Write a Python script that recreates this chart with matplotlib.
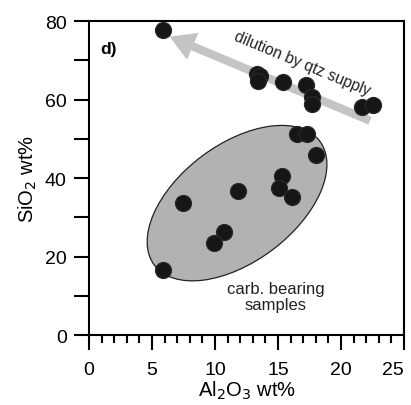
import matplotlib

matplotlib.use("Agg")
import matplotlib.pyplot as plt
from matplotlib.patches import Ellipse
from matplotlib.ticker import MultipleLocator

plt.rcParams["font.family"] = ["Liberation Sans", "DejaVu Sans"]

# Al2O3 / SiO2 (wt%)
al2o3 = [5.9, 13.3, 13.6, 13.4, 15.4, 17.2, 17.7, 17.7, 21.7, 22.5,
         16.5, 17.3, 18.0, 15.3, 15.1, 16.1, 11.8, 7.5, 10.7, 9.9, 5.9]
sio2 = [77.8, 66.6, 66.1, 64.8, 64.5, 63.8, 60.7, 58.9, 58.2, 58.7,
        51.3, 51.3, 45.9, 40.6, 37.5, 35.2, 36.7, 33.7, 26.3, 23.4, 16.6]

# dilution trend arrow (tail -> head), data units
arrow_tail = (22.3, 54.6)
arrow_head = (6.4, 76.0)

fig = plt.figure(figsize=(4.11, 4.06), dpi=100)
ax = fig.add_axes([0.2165, 0.1724, 0.7665, 0.7734])

# carbonate-bearing field
ax.add_patch(Ellipse((0.47, 0.42), 0.657, 0.373, angle=37,
                     transform=ax.transAxes, facecolor="#b2b2b2",
                     edgecolor="#222222", lw=0.9, zorder=1))

ax.annotate("", xy=arrow_head, xytext=arrow_tail,
            arrowprops=dict(arrowstyle="simple,head_length=1.8,head_width=2.1,tail_width=0.6",
                            color="#c4c4c4", lw=0, shrinkA=0, shrinkB=0),
            zorder=2)

ax.scatter(al2o3, sio2, s=135, color="#161616", edgecolor="#2a2a2a",
           linewidth=0.8, zorder=3)

ax.text(0.9, 73, "d)", fontsize=12.5, fontweight="bold", ha="left", va="center")
ax.text(16.9, 69.3, "dilution by qtz supply", fontsize=11.3, rotation=-22.5,
        rotation_mode="anchor", ha="center", va="center", color="#222222")
ax.text(14.8, 9.8, "carb. bearing\nsamples", fontsize=12, ha="center",
        va="center", color="#222222", linespacing=1.1)

ax.set_xlim(0, 25)
ax.set_ylim(0, 80)
ax.set_xticks([0, 5, 10, 15, 20, 25])
ax.xaxis.set_minor_locator(MultipleLocator(1))
ax.set_yticks([0, 20, 40, 60, 80])
ax.yaxis.set_minor_locator(MultipleLocator(10))
ax.tick_params(which="major", direction="out", length=11, width=1.5,
               labelsize=14, pad=5)
ax.tick_params(axis="x", which="major", pad=8)
ax.tick_params(axis="x", which="minor", direction="out", length=5.5, width=1.5)
ax.tick_params(axis="y", which="minor", direction="out", length=11, width=1.5)
for sp in ax.spines.values():
    sp.set_linewidth(1.5)

ax.set_xlabel("Al$_2$O$_3$ wt%", fontsize=14.5, labelpad=0)
ax.set_ylabel("SiO$_2$ wt%", fontsize=14.5, labelpad=4)

# keep the last x label inside the canvas, as in the original
fig.canvas.draw()
for tick in ax.xaxis.get_major_ticks():
    if abs(tick.get_loc() - 25) < 1e-9:
        tick.label1.set_horizontalalignment("right")
        tick.label1.set_x(25.25)

fig.savefig("out.png", dpi=100)
